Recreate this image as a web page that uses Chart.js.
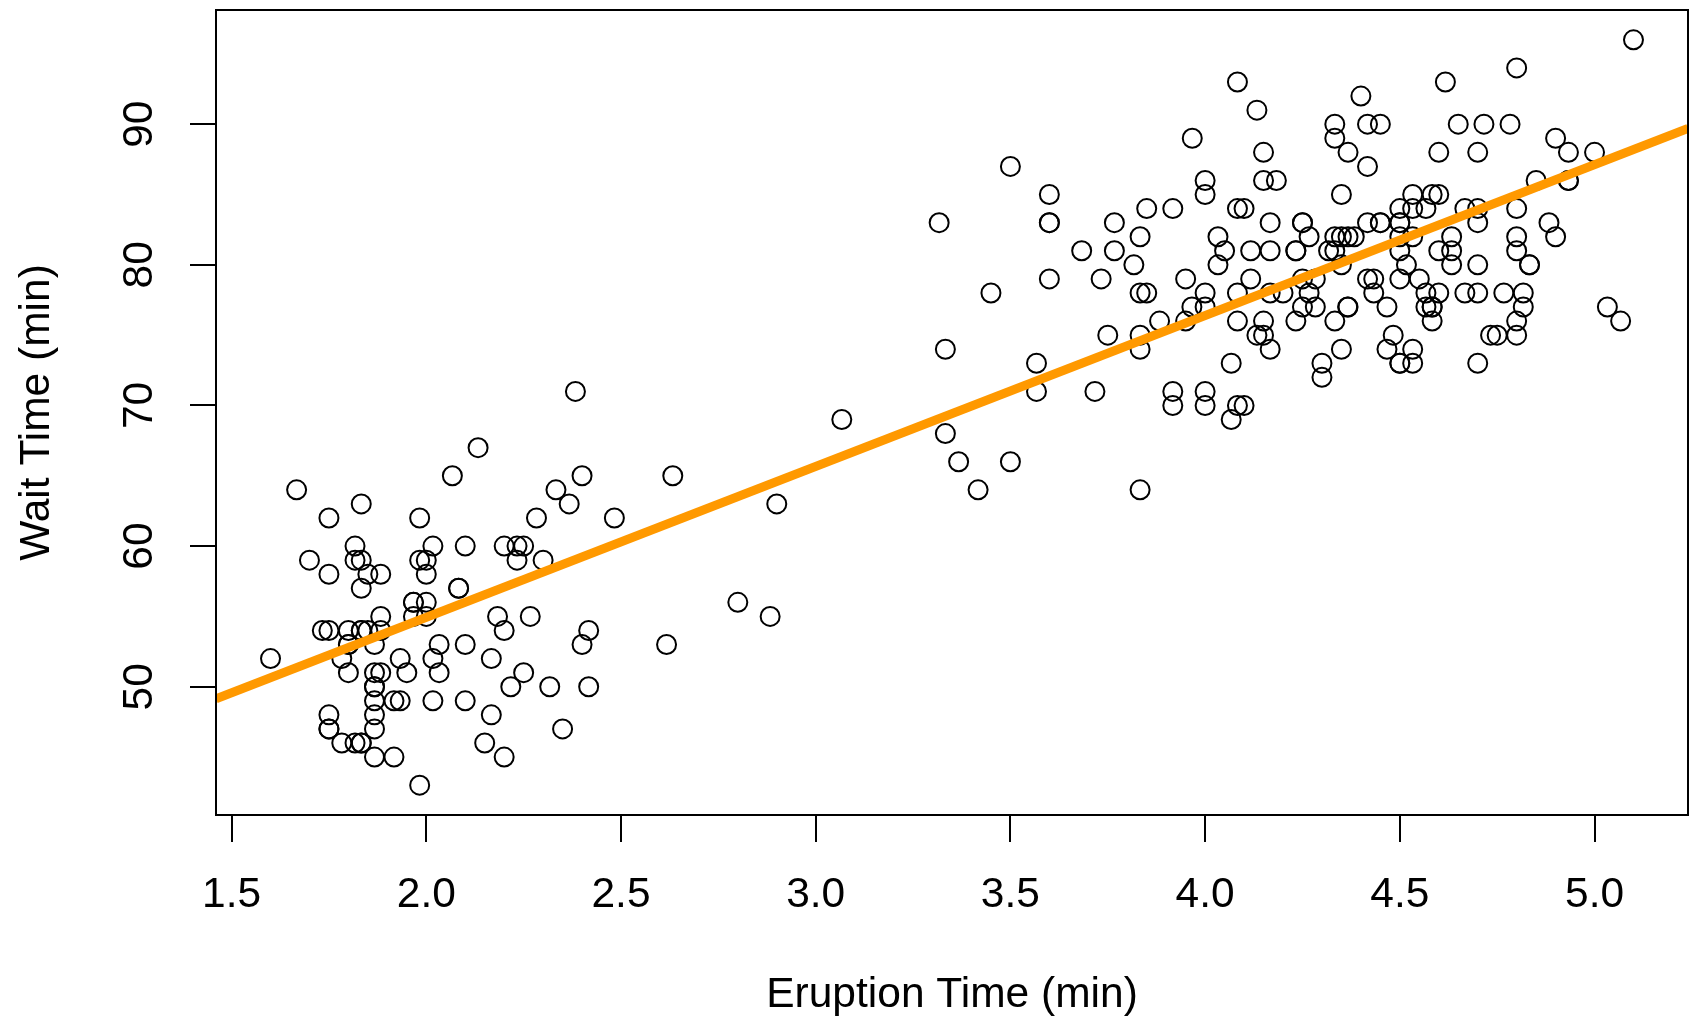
<!DOCTYPE html>
<html>
<head>
<meta charset="utf-8">
<title>Old Faithful</title>
<script src="https://cdn.jsdelivr.net/npm/chart.js@4"></script>
<style>
  html, body { margin: 0; padding: 0; background: #fff; }
  #wrap { width: 1693px; height: 1023px; }
</style>
</head>
<body>
<div id="wrap"><canvas id="chart" width="1693" height="1023"></canvas></div>
<script>
// Old Faithful geyser: eruption duration vs waiting time (min)
const ERUPTIONS = [
  3.600,1.800,3.333,2.283,4.533,2.883,4.700,3.600,1.950,4.350,
  1.833,3.917,4.200,1.750,4.700,2.167,1.750,4.800,1.600,4.250,
  1.800,1.750,3.450,3.067,4.533,3.600,1.967,4.083,3.850,4.433,
  4.300,4.467,3.367,4.033,3.833,2.017,1.867,4.833,1.833,4.783,
  4.350,1.883,4.567,1.750,4.533,3.317,3.833,2.100,4.633,2.000,
  4.800,4.716,1.833,4.833,1.733,4.883,3.717,1.667,4.567,4.317,
  2.233,4.500,1.750,4.800,1.817,4.400,4.167,4.700,2.067,4.700,
  4.033,1.967,4.500,4.000,1.983,5.067,2.017,4.567,3.883,3.600,
  4.133,4.333,4.100,2.633,4.067,4.933,3.950,4.517,2.167,4.000,
  2.200,4.333,1.867,4.817,1.833,4.300,4.667,3.750,1.867,4.900,
  2.483,4.367,2.100,4.500,4.050,1.867,4.700,1.783,4.850,3.683,
  4.733,2.300,4.900,4.417,1.700,4.633,2.317,4.600,1.817,4.417,
  2.617,4.067,4.250,1.967,4.600,3.767,1.917,4.500,2.267,4.650,
  1.867,4.167,2.800,4.333,1.833,4.383,1.883,4.933,2.033,3.733,
  4.233,2.233,4.533,4.817,4.333,1.983,4.633,2.017,5.100,1.800,
  5.033,4.000,2.400,4.600,3.567,4.000,4.500,4.083,1.800,3.967,
  2.200,4.150,2.000,3.833,3.500,4.583,2.367,5.000,1.933,4.617,
  1.917,2.083,4.583,3.333,4.167,4.333,4.500,2.417,4.000,4.167,
  1.883,4.583,4.250,3.767,2.033,4.433,4.083,1.833,4.417,2.183,
  4.800,1.833,4.800,4.100,3.966,4.233,3.500,4.366,2.250,4.667,
  2.100,4.350,4.133,1.867,4.600,1.783,4.367,3.850,1.933,4.500,
  2.383,4.700,1.867,3.833,3.417,4.233,2.400,4.800,2.000,4.150,
  1.867,4.267,1.750,4.483,4.000,4.117,4.083,4.267,3.917,4.550,
  4.083,2.417,4.183,2.217,4.450,1.883,1.850,4.283,3.950,2.333,
  4.150,2.350,4.933,2.900,4.583,3.833,2.083,4.367,2.133,4.350,
  2.200,4.450,3.567,4.500,4.150,3.817,3.917,4.450,2.000,4.283,
  4.767,4.533,1.850,4.250,1.983,2.250,4.750,4.117,2.150,4.417,
  1.817,4.467
];
const WAITING = [
  79,54,74,62,85,55,88,85,51,85,
  54,84,78,47,83,52,62,84,52,79,
  51,47,78,69,74,83,55,76,78,79,
  73,77,66,80,74,52,48,80,59,90,
  80,58,84,58,73,83,64,53,82,59,
  75,90,54,80,54,83,71,64,77,81,
  59,84,48,82,60,92,78,78,65,73,
  82,56,79,71,62,76,60,78,76,83,
  75,82,70,65,73,88,76,80,48,86,
  60,90,50,78,63,72,84,75,51,82,
  62,88,49,83,81,47,84,52,86,81,
  75,59,89,79,59,81,50,85,59,87,
  53,69,77,56,88,81,45,82,55,90,
  45,83,56,89,46,82,51,86,53,79,
  81,60,82,77,76,59,80,49,96,53,
  77,77,65,81,71,70,81,93,53,89,
  45,86,58,78,66,76,63,88,52,93,
  49,57,77,68,81,81,73,50,85,74,
  55,77,83,83,51,78,84,46,83,55,
  81,57,76,84,77,81,87,77,51,78,
  60,82,91,53,78,46,77,84,49,83,
  71,80,49,75,64,76,53,94,55,76,
  50,82,54,75,78,79,78,78,70,79,
  70,54,86,50,90,54,54,77,79,64,
  75,47,86,63,85,82,57,82,67,74,
  54,83,73,73,88,80,71,83,56,79,
  78,84,58,83,43,60,75,81,46,90,
  46,74
];

const X_TICKS = [1.5, 2.0, 2.5, 3.0, 3.5, 4.0, 4.5, 5.0];
const Y_TICKS = [50, 60, 70, 80, 90];
const X_RANGE = [1.46, 5.24];   // data range + 4% each side (R style)
const Y_RANGE = [40.88, 98.12];

// least-squares fit of waiting on eruptions, drawn across the plot
function fitLine(xs, ys) {
  const n = xs.length;
  const mx = xs.reduce((a, b) => a + b, 0) / n;
  const my = ys.reduce((a, b) => a + b, 0) / n;
  let sxy = 0, sxx = 0;
  for (let i = 0; i < n; i++) {
    sxy += (xs[i] - mx) * (ys[i] - my);
    sxx += (xs[i] - mx) * (xs[i] - mx);
  }
  const b = sxy / sxx;
  return { a: my - b * mx, b };
}
const fit = fitLine(ERUPTIONS, WAITING);

const points = ERUPTIONS.map((x, i) => ({ x, y: WAITING[i] }));
const linePts = X_RANGE.map(x => ({ x, y: fit.a + fit.b * x }));

const FONT = 'Liberation Sans, Arial, Helvetica, sans-serif';
const FSIZE = 42.5;

// box around the plot region, like R's box()
const boxPlugin = {
  id: 'box',
  afterDatasetsDraw(chart) {
    const { ctx, chartArea: a } = chart;
    ctx.save();
    ctx.strokeStyle = '#000';
    ctx.lineWidth = 2;
    ctx.strokeRect(a.left, a.top, a.right - a.left, a.bottom - a.top);
    ctx.restore();
  }
};

// fixed axis sizes, no extra room for overhanging labels
function fixSize(prop, size) {
  return s => {
    s[prop] = size;
    s.paddingTop = s.paddingBottom = s.paddingLeft = s.paddingRight = 0;
  };
}

new Chart(document.getElementById('chart'), {
  data: {
    datasets: [
      {
        type: 'line',
        data: linePts,
        borderColor: '#FF9900',
        borderWidth: 9,
        pointRadius: 0,
        fill: false,
        order: 0,
      },
      {
        type: 'scatter',
        data: points,
        pointStyle: 'circle',
        pointRadius: 9.5,
        pointBorderWidth: 2,
        borderColor: '#000',
        backgroundColor: 'rgba(0,0,0,0)',
        order: 1,
      }
    ]
  },
  options: {
    responsive: false,
    animation: false,
    events: [],
    layout: { autoPadding: false, padding: { top: 10, right: 5, left: 0, bottom: 0 } },
    plugins: { legend: { display: false }, tooltip: { enabled: false } },
    scales: {
      x: {
        type: 'linear',
        min: X_RANGE[0], max: X_RANGE[1],
        afterFit: fixSize('height', 208),
        afterBuildTicks: s => { s.ticks = X_TICKS.map(v => ({ value: v })); },
        grid: { display: true, drawOnChartArea: false, drawTicks: true, tickLength: 27, color: '#000', lineWidth: 2 },
        border: { display: true, color: '#000', width: 2 },
        ticks: {
          color: '#000', padding: 27.5, autoSkip: false, maxRotation: 0,
          font: { family: FONT, size: FSIZE },
          callback: v => v.toFixed(1)
        },
        title: {
          display: true, text: 'Eruption Time (min)', color: '#000',
          font: { family: FONT, size: FSIZE }, padding: { top: 0, bottom: 2.5 }
        }
      },
      y: {
        type: 'linear',
        min: Y_RANGE[0], max: Y_RANGE[1],
        afterFit: fixSize('width', 216),
        afterBuildTicks: s => { s.ticks = Y_TICKS.map(v => ({ value: v })); },
        grid: { display: true, drawOnChartArea: false, drawTicks: true, tickLength: 26, color: '#000', lineWidth: 2 },
        border: { display: true, color: '#000', width: 2 },
        ticks: {
          color: '#000', padding: 26.4, autoSkip: false,
          minRotation: 90, maxRotation: 90, crossAlign: 'center',
          font: { family: FONT, size: FSIZE },
          callback: v => String(v)
        },
        title: {
          display: true, text: 'Wait Time (min)', color: '#000',
          font: { family: FONT, size: FSIZE }, padding: { top: 11.5, bottom: 0 }
        }
      }
    }
  },
  plugins: [boxPlugin]
});
</script>
</body>
</html>
